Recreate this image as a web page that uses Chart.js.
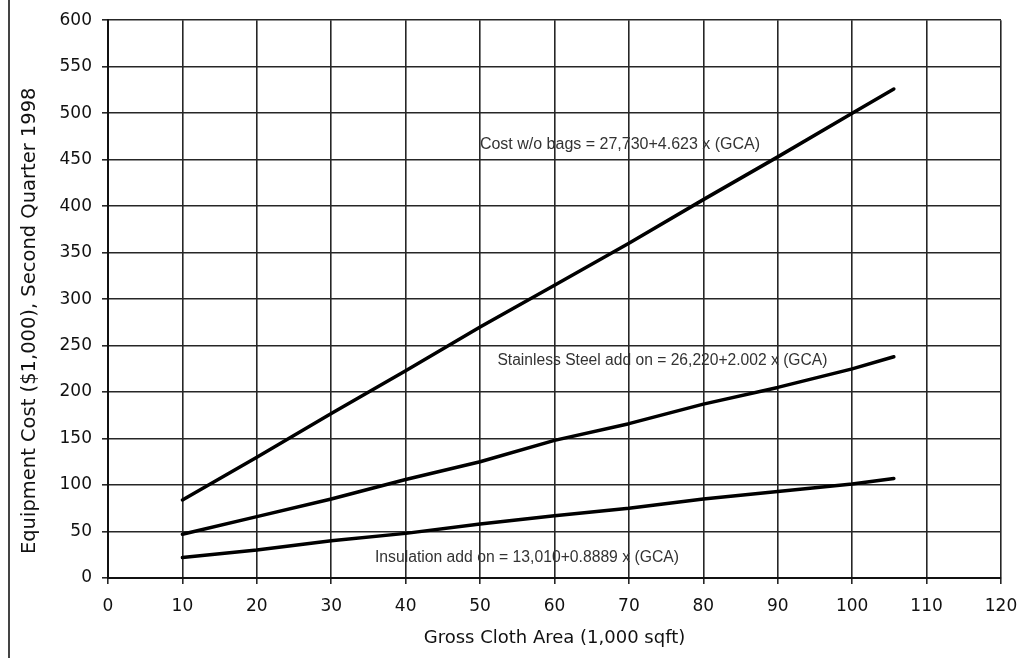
<!DOCTYPE html>
<html>
<head>
<meta charset="utf-8">
<title>Equipment cost vs gross cloth area</title>
<script src="https://cdn.jsdelivr.net/npm/chart.js@4"></script>
<style>
  html, body { margin: 0; padding: 0; background: #fff; }
  #wrap { position: relative; width: 1036px; height: 658px; }
  #edge { position: absolute; left: 8px; top: 0; width: 2px; height: 658px; background: #444; }
</style>
</head>
<body>
<div id="wrap">
  <div id="edge"></div>
  <canvas id="costChart"></canvas>
</div>
<script>
// values (x in 1,000 sqft, y in $1,000)
const gca = [10, 20, 30, 40, 50, 60, 70, 80, 90, 100, 105.6];
const costWithoutBags = [84, 130, 177, 223, 270, 315, 360, 407, 453, 500, 526];
const stainlessAddOn = [47, 66, 85, 106, 125, 148, 166, 187, 205, 225, 238];
const insulationAddOn = [22, 30, 40, 48, 58, 67, 75, 85, 93, 101, 107];

const equations = [
    { text: 'Cost w/o bags = 27,730+4.623 x (GCA)', x: 68.8, y: 466, w: 281 },
    { text: 'Stainless Steel add on = 26,220+2.002 x (GCA)', x: 74.5, y: 234, w: 330 },
    { text: 'Insulation add on = 13,010+0.8889 x (GCA)', x: 56.3, y: 22, w: 304 }
];

const toPoints = (ys) => gca.map((x, i) => ({ x: x, y: ys[i] }));

const equationLabels = {
    id: 'equationLabels',
    afterDatasetsDraw(chart) {
        const ctx = chart.ctx;
        const sx = chart.scales.x, sy = chart.scales.y;
        ctx.save();
        ctx.font = '16px "Liberation Sans", Arial, sans-serif';
        ctx.fillStyle = '#333';
        ctx.textAlign = 'center';
        ctx.textBaseline = 'middle';
        equations.forEach(e => {
            ctx.fillText(e.text, sx.getPixelForValue(e.x), sy.getPixelForValue(e.y), e.w);
        });
        ctx.restore();
    }
};

const lineStyle = {
    borderColor: '#000',
    borderWidth: 3.5,
    pointRadius: 0,
    tension: 0,
    borderCapStyle: 'round',
    borderJoinStyle: 'round',
    fill: false
};

new Chart(document.getElementById('costChart').getContext('2d'), {
    type: 'line',
    data: {
        datasets: [
            Object.assign({ label: 'Cost w/o bags', data: toPoints(costWithoutBags) }, lineStyle),
            Object.assign({ label: 'Stainless Steel add on', data: toPoints(stainlessAddOn) }, lineStyle),
            Object.assign({ label: 'Insulation add on', data: toPoints(insulationAddOn) }, lineStyle)
        ]
    },
    options: {
        responsive: true,
        maintainAspectRatio: false,
        animation: false,
        devicePixelRatio: 1,
        layout: { padding: { left: 0, right: 35, top: 18, bottom: 0 } },
        plugins: {
            legend: { display: false },
            tooltip: { enabled: false }
        },
        scales: {
            x: {
                type: 'linear',
                min: 0,
                max: 120,
                afterFit: (s) => { s.height = 80; },
                ticks: {
                    stepSize: 10,
                    padding: 12,
                    color: '#111',
                    font: { family: '"DejaVu Sans", sans-serif', size: 17 }
                },
                grid: { color: '#262626', lineWidth: 1.6, tickLength: 6 },
                border: { color: '#111', width: 2 },
                title: {
                    display: true,
                    text: 'Gross Cloth Area (1,000 sqft)',
                    color: '#111',
                    font: { family: '"DejaVu Sans", sans-serif', size: 18 },
                    padding: { top: 0, bottom: 9 }
                }
            },
            y: {
                min: 0,
                max: 600,
                afterFit: (s) => { s.width = 108; },
                ticks: {
                    stepSize: 50,
                    padding: 10,
                    color: '#111',
                    font: { family: '"DejaVu Sans", sans-serif', size: 17 }
                },
                grid: { color: '#262626', lineWidth: 1.6, tickLength: 6 },
                border: { color: '#111', width: 2 },
                title: {
                    display: true,
                    // trailing spaces push the centred title down, as in the original
                    text: 'Equipment Cost ($1,000), Second Quarter 1998       ',
                    color: '#111',
                    font: { family: '"DejaVu Sans", sans-serif', size: 19.5 },
                    padding: { top: 18, bottom: 0 }
                }
            }
        }
    },
    plugins: [equationLabels]
});
</script>
</body>
</html>
